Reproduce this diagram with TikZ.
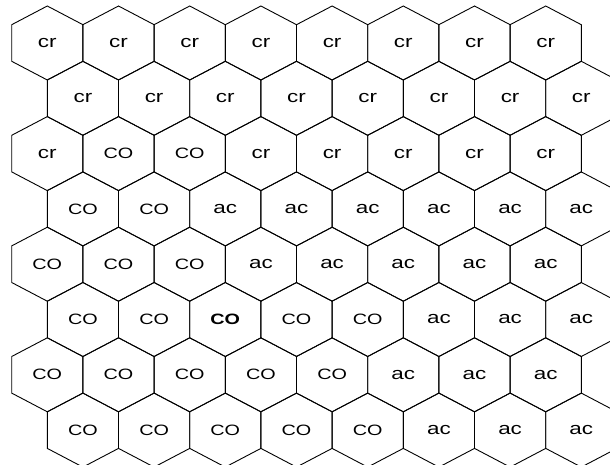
\documentclass[tikz,border=0pt]{standalone}
\usepackage{fontspec}
\setmainfont[FakeStretch=1.32]{Liberation Sans}
\newcommand\CO{{\fontsize{15}{17}\selectfont CO}}
\newcommand\COb{{\fontsize{15}{17}\selectfont\bfseries CO}}

\begin{document}
\begin{tikzpicture}[x=1pt,y=-1pt,font=\fontsize{17}{19}\selectfont,line width=.9pt,
  cell/.style={inner sep=0pt}]
\clip (0,0) rectangle (610,465);
\foreach \r/\labels in {1/{cr,cr,cr,cr,cr,cr,cr,cr},2/{cr,cr,cr,cr,cr,cr,cr,cr},
  3/{cr,\CO,\CO,cr,cr,cr,cr,cr},4/{\CO,\CO,ac,ac,ac,ac,ac,ac},5/{\CO,\CO,\CO,ac,ac,ac,ac,ac},
  6/{\CO,\CO,\COb,\CO,\CO,ac,ac,ac},7/{\CO,\CO,\CO,\CO,\CO,ac,ac,ac},8/{\CO,\CO,\CO,\CO,\CO,ac,ac,ac}}{
  \pgfmathsetmacro\sh{mod(\r+1,2)*35.6}
  \foreach \t [count=\c] in \labels {
    \node[cell] (h\r-\c) at ({47.3+\sh+71.2*(\c-1)},{43+55.3*(\r-1)}) {\t};
    \draw (h\r-\c.center) ++(0,-37) -- ++(35.6,18.7) -- ++(0,36.6) -- ++(-35.6,18.7)
      -- ++(-35.6,-18.7) -- ++(0,-36.6) -- cycle;
  }
}
\end{tikzpicture}
\end{document}
